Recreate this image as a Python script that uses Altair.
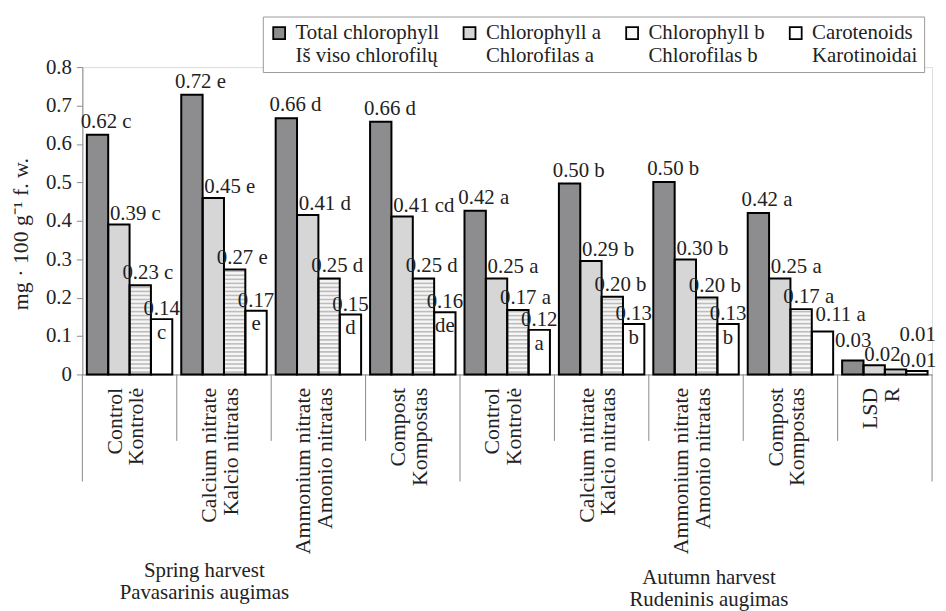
import altair as alt
import pandas as pd

FONT = "Liberation Serif"
TXT = "#222222"

categories = [
    "Control|Kontrolė|S", "Calcium nitrate|Kalcio nitratas|S",
    "Ammonium nitrate|Amonio nitratas|S", "Compost|Kompostas|S",
    "Control|Kontrolė|A", "Calcium nitrate|Kalcio nitratas|A",
    "Ammonium nitrate|Amonio nitratas|A", "Compost|Kompostas|A", "LSD|R|L",
]
series = [
    "Total chlorophyll|Iš viso chlorofilų",
    "Chlorophyll a|Chlorofilas a",
    "Chlorophyll b|Chlorofilas b",
    "Carotenoids|Karotinoidai",
]

total = [0.624, 0.728, 0.667, 0.658, 0.426, 0.497, 0.501, 0.420, 0.036]
chl_a = [0.390, 0.459, 0.415, 0.411, 0.250, 0.295, 0.299, 0.250, 0.024]
chl_b = [0.232, 0.273, 0.250, 0.250, 0.168, 0.202, 0.200, 0.170, 0.013]
carot = [0.144, 0.166, 0.156, 0.162, 0.116, 0.131, 0.131, 0.112, 0.009]

total_lbl = ["0.62 c", "0.72 e", "0.66 d", "0.66 d", "0.42 a", "0.50 b", "0.50 b", "0.42 a", "0.03"]
a_lbl = ["0.39 c", "0.45 e", "0.41 d", "0.41 cd", "0.25 a", "0.29 b", "0.30 b", "0.25 a", "0.02"]
b_lbl = ["0.23 c", "0.27 e", "0.25 d", "0.25 d", "0.17 a", "0.20 b", "0.20 b", "0.17 a", "0.01"]
car_lbl = ["0.14|c", "0.17|e", "0.15|d", "0.16|de", "0.12|a", "0.13|b", "0.13|b", "0.11 a", "0.01"]

fills = ["#8d8d90", "#d6d6d6", "#f6f6f6", "#ffffff"]

y_ticks = [0, 0.1, 0.2, 0.3, 0.4, 0.5, 0.6, 0.7, 0.8]
y_title = "mg · 100 g⁻¹ f. w."

short_bounds = [categories[i] for i in (1, 2, 3, 5, 6, 7, 8)]
long_bounds = [categories[0], categories[4]]
end_bound = [categories[8]]
lsd_cat = categories[8]

harvest_spring = ["Spring harvest|Pavasarinis augimas"]
harvest_autumn = ["Autumn harvest|Rudeninis augimas"]

rows = []
for vals, lbls, s in zip([total, chl_a, chl_b, carot], [total_lbl, a_lbl, b_lbl, car_lbl], series):
    for c, v, l in zip(categories, vals, lbls):
        rows.append({"cat": c, "series": s, "sidx": series.index(s),
                     "lsd": c == lsd_cat, "value": v, "label": l})
df = pd.DataFrame(rows)

W, H = 857, 310

xscale = alt.Scale(domain=categories, paddingInner=0, paddingOuter=0)
xoscale = alt.Scale(domain=series, paddingInner=0, paddingOuter=0.21)
yscale = alt.Scale(domain=[0, 0.8], nice=False, zero=True)

x_axis = alt.Axis(
    title=None, labelExpr="slice(split(datum.label, '|'), 0, 2)",
    labelAngle=270, labelAlign="right", labelBaseline="middle",
    labelFont=FONT, labelFontSize=22, labelLineHeight=22, labelPadding=13,
    labelOffset=-15, labelOverlap=False,
    labelColor=TXT, labelLimit=400, ticks=False, domainColor="#8a8a8a",
    domainWidth=1)
y_axis = alt.Axis(
    values=y_ticks, format=".1~f", grid=False, title=y_title,
    titleFont=FONT, titleFontSize=22, titleFontWeight="normal", titleColor=TXT,
    titleAngle=270, titleX=-55, titleY=168, titleAlign="center",
    titleBaseline="alphabetic", labelFont=FONT, labelFontSize=21,
    labelOverlap=False, labelFlush=False,
    labelColor=TXT, labelPadding=5, tickSize=6, tickColor="#8a8a8a",
    domainColor="#8a8a8a")

X = alt.X("cat:N", sort=categories, scale=xscale, axis=x_axis)
XO = alt.XOffset("series:N", sort=series, scale=xoscale)
Y = alt.Y("value:Q", scale=yscale, axis=y_axis)

base = alt.Chart(df)

bars = base.mark_bar(strokeWidth=0).encode(
    x=X, xOffset=XO, y=Y,
    fill=alt.Fill("series:N", sort=series, scale=alt.Scale(domain=series, range=fills),
                  legend=alt.Legend(
                      orient="none", legendX=182, legendY=-51, direction="horizontal",
                      columns=4, title=None, labelExpr="split(datum.label, '|')",
                      labelFont=FONT, labelFontSize=21,
                      labelColor=TXT, labelLimit=400, labelBaseline="middle",
                      symbolType="square", symbolSize=144, symbolStrokeColor="black",
                      symbolStrokeWidth=1.8, columnPadding=20, labelOffset=6,
                      padding=6, strokeColor="#9a9a9a", fillColor="white")),
)

stripes = base.transform_filter("datum.sidx == 2").transform_calculate(
    seq="sequence(0.004, datum.value - 0.002, 0.0105)"
).transform_flatten(["seq"]).transform_calculate(
    seq2="datum.seq + 0.0042"
).mark_bar(fill="#bdbdbd", strokeWidth=0).encode(
    x=X, xOffset=XO, y=alt.Y("seq:Q", scale=yscale, axis=y_axis), y2="seq2:Q")

outline = base.mark_bar(fillOpacity=0, stroke="black", strokeWidth=2).encode(
    x=X, xOffset=XO, y=Y)


def lbl_layer(flt, dx, align, dy):
    return base.transform_filter(flt).transform_calculate(
        lines="split(datum.label, '|')"
    ).mark_text(font=FONT, fontSize=21, align=align, baseline="alphabetic",
                dx=dx, dy=dy, lineHeight=24, color=TXT).encode(
        x=X, xOffset=XO, y=Y, text="lines:N")


labels = [
    lbl_layer("!datum.lsd && datum.sidx == 0", -17, "left", -7),
    lbl_layer("!datum.lsd && datum.sidx == 1", -9, "left", -5),
    lbl_layer("!datum.lsd && datum.sidx == 2", -18, "left", -6),
    lbl_layer("!datum.lsd && datum.sidx == 3 && indexof(datum.label, '|') >= 0",
              0, "center", -4),
    lbl_layer("!datum.lsd && datum.sidx == 3 && indexof(datum.label, '|') < 0",
              -7, "left", -10),
    # LSD labels, crowded as in the original
    lbl_layer("datum.lsd && datum.sidx == 0", -18, "left", -14),
    lbl_layer("datum.lsd && datum.sidx == 1", -10, "left", -4),
    lbl_layer("datum.lsd && datum.sidx == 2", 4, "left", -29),
    lbl_layer("datum.lsd && datum.sidx == 3", -17, "left", -4),
]


def rule_layer(cats, band_pos, length):
    return alt.Chart(pd.DataFrame({"cat": cats})).mark_rule(
        color="#8a8a8a", strokeWidth=1).encode(
        x=alt.X("cat:N", sort=categories, scale=xscale, bandPosition=band_pos, axis=x_axis),
        y=alt.value(H), y2=alt.value(H + length))


rule_short = rule_layer(short_bounds, 0, 67)
rule_long = rule_layer(long_bounds, 0, 108)
rule_end = rule_layer(end_bound, 1, 108)


def harvest(txt, x, y):
    return alt.Chart(pd.DataFrame({"t": txt})).transform_calculate(
        lines="split(datum.t, '|')"
    ).mark_text(font=FONT, fontSize=21, align="center", baseline="alphabetic",
                lineHeight=23, color=TXT).encode(
        text="lines:N", x=alt.value(x), y=alt.value(y))


chart = alt.layer(
    bars, stripes, outline, *labels, rule_short, rule_long, rule_end,
    harvest(harvest_spring, 123, 514), harvest(harvest_autumn, 632, 521),
).properties(
    width=W, height=H,
    autosize=alt.AutoSizeParams(type="none"),
    padding={"left": 75, "top": 57, "right": 6, "bottom": 236},
).configure_view(stroke=None).configure(background="white")

chart.save("out.html", embed_options={"renderer": "svg", "actions": False})
